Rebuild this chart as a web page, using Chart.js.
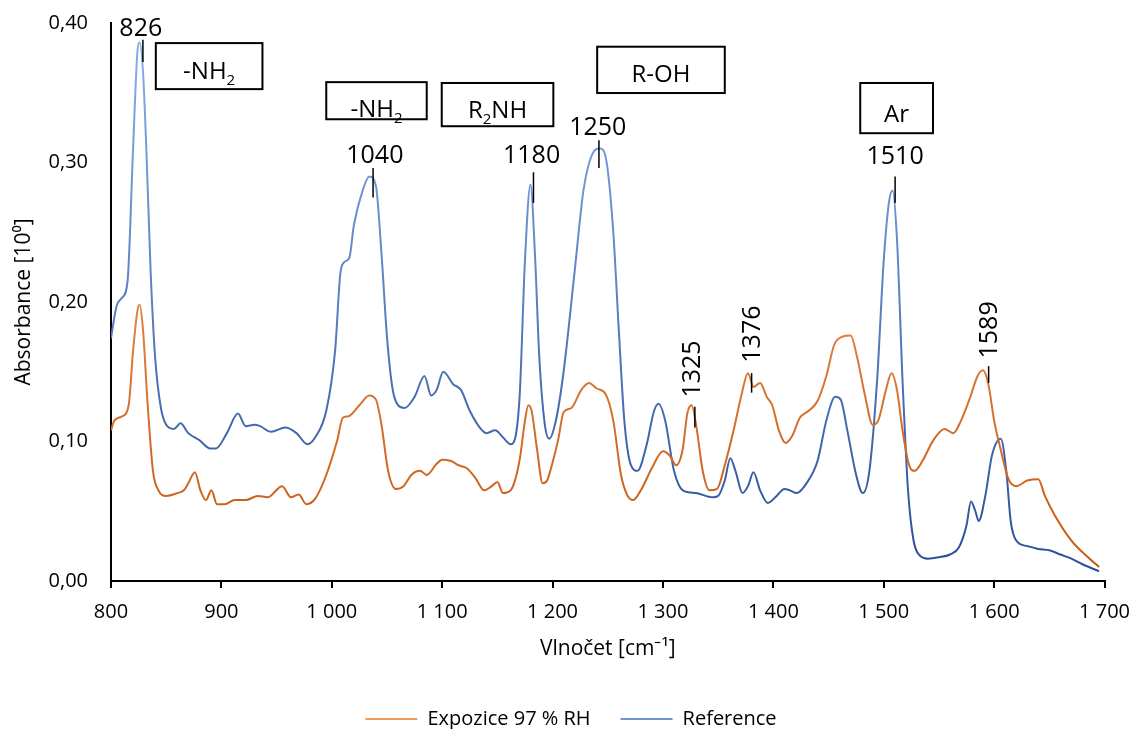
<!DOCTYPE html>
<html>
<head>
<meta charset="utf-8">
<script src="https://cdn.jsdelivr.net/npm/chart.js@4.4.0/dist/chart.umd.min.js"></script>
<style>
html, body { margin: 0; padding: 0; background: #fff; }
</style>
</head>
<body>
<canvas id="spectrum" width="1142" height="729"></canvas>
<script>
// wavenumbers [cm-1] and absorbance
const seriesNames = ["Expozice 97 % RH", "Reference"];

const expWave = [
    800, 803, 810, 816, 820, 824, 826, 829, 833, 838,
    843, 850, 860, 866, 870, 876, 881, 886, 891, 896,
    903, 912, 922, 933, 942, 955, 963, 970, 977, 985,
    995, 1005, 1010, 1015, 1025, 1034, 1040, 1045, 1051, 1058,
    1065, 1072, 1080, 1086, 1095, 1100, 1108, 1115, 1122, 1130,
    1138, 1145, 1150, 1155, 1162, 1170, 1175, 1178, 1181, 1186,
    1191, 1195, 1200, 1205, 1210, 1217, 1226, 1233, 1240, 1248,
    1255, 1262, 1268, 1273, 1280, 1290, 1300, 1306, 1312, 1318,
    1322, 1326, 1330, 1336, 1342, 1349, 1356, 1364, 1371, 1377,
    1382, 1388, 1394, 1399, 1405, 1411, 1417, 1424, 1432, 1440,
    1448, 1455, 1462, 1470, 1476, 1483, 1490, 1495, 1502, 1507,
    1512, 1517, 1523, 1528, 1535, 1545, 1555, 1563, 1570, 1578,
    1585, 1590, 1595, 1600, 1606, 1613, 1620, 1630, 1640, 1646,
    1655, 1670, 1685, 1695
];
const expAbs = [
    .108, .115, .118, .126, .165, .194, .198, .180, .129, .079,
    .065, .061, .063, .065, .070, .078, .065, .058, .065, .055,
    .055, .058, .058, .061, .060, .068, .060, .062, .055, .059,
    .076, .101, .117, .118, .126, .133, .130, .112, .079, .066,
    .068, .076, .079, .076, .084, .087, .086, .083, .081, .074,
    .065, .068, .071, .063, .065, .086, .115, .126, .122, .094,
    .070, .072, .085, .101, .121, .124, .137, .142, .138, .134,
    .115, .076, .061, .058, .065, .081, .093, .090, .083, .095,
    .120, .126, .112, .079, .065, .066, .083, .108, .133, .149,
    .139, .142, .132, .126, .108, .099, .104, .117, .122, .129,
    .147, .169, .175, .176, .160, .133, .112, .115, .137, .149,
    .137, .108, .083, .079, .086, .101, .109, .106, .115, .131,
    .147, .151, .140, .115, .094, .073, .068, .072, .073, .061,
    .047, .029, .017, .010
];

const refWave = [
    800, 805, 810, 815, 820, 824, 826, 829, 832, 836,
    840, 845, 850, 857, 863, 870, 880, 890, 895, 905,
    915, 922, 930, 935, 945, 958, 968, 978, 985, 995,
    1003, 1008, 1012, 1016, 1020, 1028, 1034, 1040, 1045, 1050,
    1055, 1060, 1066, 1075, 1084, 1090, 1095, 1101, 1110, 1117,
    1125, 1135, 1140, 1148, 1155, 1162, 1170, 1175, 1180, 1184,
    1188, 1193, 1197, 1203, 1210, 1220, 1228, 1236, 1243, 1249,
    1255, 1260, 1265, 1271, 1277, 1285, 1292, 1296, 1302, 1310,
    1318, 1330, 1345, 1350, 1356, 1361, 1366, 1372, 1377, 1382,
    1388, 1395, 1403, 1410, 1415, 1421, 1430, 1440, 1448, 1456,
    1461, 1467, 1475, 1481, 1487, 1494, 1500, 1505, 1508, 1512,
    1517, 1522, 1527, 1533, 1540, 1550, 1560, 1568, 1575, 1579,
    1583, 1586, 1592, 1598, 1606, 1611, 1615, 1620, 1630, 1640,
    1650, 1660, 1670, 1680, 1695
];
const refAbs = [
    .174, .197, .203, .215, .310, .380, .386, .365, .310, .220,
    .160, .125, .112, .109, .113, .106, .101, .095, .095, .106,
    .120, .111, .112, .111, .107, .110, .106, .098, .103, .122,
    .165, .222, .229, .232, .255, .280, .290, .283, .235, .175,
    .138, .126, .124, .132, .147, .133, .137, .150, .141, .137,
    .122, .109, .106, .108, .103, .098, .130, .230, .284, .235,
    .160, .112, .102, .115, .150, .222, .280, .306, .310, .300,
    .250, .180, .115, .083, .079, .097, .122, .127, .115, .079,
    .065, .063, .060, .061, .072, .088, .078, .063, .068, .078,
    .065, .056, .061, .066, .065, .063, .070, .086, .115, .132,
    .130, .108, .076, .063, .079, .144, .230, .273, .280, .245,
    .144, .065, .029, .018, .016, .017, .019, .024, .040, .057,
    .050, .043, .061, .090, .102, .079, .043, .029, .025, .023,
    .022, .019, .016, .012, .007
];

const xTicks = [800, 900, 1000, 1100, 1200, 1300, 1400, 1500, 1600, 1700];
const yTicks = [0, 0.1, 0.2, 0.3, 0.4];

// peak numbers: text, label anchor (x, y) and the small marker line (mx, from y1 to y2)
const peakNotes = [
    { text: "826",  x: 827,  y: 0.396, rot: false, mx: 828.9, y1: 0.388, y2: 0.372 },
    { text: "1040", x: 1039, y: 0.305, rot: false, mx: 1037.4, y1: 0.296, y2: 0.275 },
    { text: "1180", x: 1181, y: 0.305, rot: false, mx: 1182.7, y1: 0.293, y2: 0.271 },
    { text: "1250", x: 1241, y: 0.325, rot: false, mx: 1242, y1: 0.316, y2: 0.296 },
    { text: "1325", x: 1327, y: 0.152, rot: true, mx: 1328.9, y1: 0.125, y2: 0.110 },
    { text: "1376", x: 1381.7, y: 0.177, rot: true, mx: 1380.3, y1: 0.149, y2: 0.135 },
    { text: "1510", x: 1510.3, y: 0.304, rot: false, mx: 1510.3, y1: 0.290, y2: 0.271 },
    { text: "1589", x: 1596, y: 0.180, rot: true, mx: 1595, y1: 0.154, y2: 0.142 }
];

// boxed group names, parts flagged 1 are subscripts
const groupBoxes = [
    { parts: [["-NH", 0], ["2", 1]], x1: 840.6, x2: 937.2, y1: 0.3856, y2: 0.3526, base: 0.3598 },
    { parts: [["-NH", 0], ["2", 1]], x1: 995, x2: 1086, y1: 0.3576, y2: 0.3310, base: 0.3325 },
    { parts: [["R", 0], ["2", 1], ["NH", 0]], x1: 1099.6, x2: 1200.7, y1: 0.3570, y2: 0.3260, base: 0.3318 },
    { parts: [["R-OH", 0]], x1: 1240.4, x2: 1356, y1: 0.3830, y2: 0.3498, base: 0.3576 },
    { parts: [["Ar", 0]], x1: 1478.7, x2: 1544.6, y1: 0.3570, y2: 0.3210, base: 0.3289 }
];

const FONT = "'Open Sans', sans-serif";
const legendColors = ['#f29a5c', '#6f95d6'];

function lineGradient(top, bottom) {
    return (c) => {
        const area = c.chart.chartArea;
        if (!area) return bottom;
        const g = c.chart.ctx.createLinearGradient(0, area.top, 0, area.bottom);
        g.addColorStop(0, top);
        g.addColorStop(1, bottom);
        return g;
    };
}

function toPoints(xs, ys) {
    return xs.map((x, i) => ({ x: x, y: ys[i] }));
}

const notesPlugin = {
    id: 'peakNotes',
    afterDatasetsDraw(chart) {
        const ctx = chart.ctx;
        const sx = chart.scales.x, sy = chart.scales.y;
        ctx.save();
        ctx.fillStyle = '#000';
        ctx.strokeStyle = '#000';

        peakNotes.forEach(n => {
            const mx = sx.getPixelForValue(n.mx);
            ctx.lineWidth = 1.5;
            ctx.beginPath();
            ctx.moveTo(mx, sy.getPixelForValue(n.y1));
            ctx.lineTo(mx, sy.getPixelForValue(n.y2));
            ctx.stroke();

            ctx.save();
            ctx.translate(sx.getPixelForValue(n.x), sy.getPixelForValue(n.y));
            if (n.rot) ctx.rotate(-Math.PI / 2);
            ctx.font = '25px ' + FONT;
            ctx.textAlign = 'center';
            ctx.textBaseline = 'middle';
            ctx.fillText(n.text, 0, 0);
            ctx.restore();
        });

        groupBoxes.forEach(b => {
            const left = sx.getPixelForValue(b.x1), right = sx.getPixelForValue(b.x2);
            const top = sy.getPixelForValue(b.y1), bottom = sy.getPixelForValue(b.y2);
            ctx.lineWidth = 2;
            ctx.strokeRect(left, top, right - left, bottom - top);

            let total = 0;
            b.parts.forEach(p => {
                ctx.font = (p[1] ? '15px ' : '24px ') + FONT;
                total += ctx.measureText(p[0]).width;
            });
            let x = (left + right) / 2 - total / 2;
            const base = sy.getPixelForValue(b.base);
            ctx.textAlign = 'left';
            ctx.textBaseline = 'alphabetic';
            b.parts.forEach(p => {
                ctx.font = (p[1] ? '15px ' : '24px ') + FONT;
                ctx.fillText(p[0], x, base + (p[1] ? 6 : 0));
                x += ctx.measureText(p[0]).width;
            });
        });
        ctx.restore();
    }
};

new Chart(document.getElementById('spectrum'), {
    type: 'line',
    data: {
        datasets: [{
            label: seriesNames[0],
            data: toPoints(expWave, expAbs),
            borderColor: lineGradient('#ffb07a', '#c4540c'),
            borderWidth: 2,
            pointRadius: 0,
            cubicInterpolationMode: 'monotone',
            fill: false
        }, {
            label: seriesNames[1],
            data: toPoints(refWave, refAbs),
            borderColor: lineGradient('#8db2ea', '#284c95'),
            borderWidth: 2,
            pointRadius: 0,
            cubicInterpolationMode: 'monotone',
            fill: false
        }]
    },
    options: {
        responsive: false,
        animation: false,
        devicePixelRatio: 1,
        layout: { padding: { top: 23, right: 0, bottom: 0, left: 0 } },
        plugins: {
            tooltip: { enabled: false },
            legend: {
                position: 'bottom',
                maxHeight: 50,
                labels: {
                    usePointStyle: true,
                    pointStyle: 'line',
                    pointStyleWidth: 52,
                    padding: 30,
                    color: '#000',
                    font: { family: FONT, size: 20 },
                    generateLabels: (chart) => {
                        const items = Chart.defaults.plugins.legend.labels.generateLabels(chart);
                        items.forEach((it, i) => {
                            it.strokeStyle = legendColors[i];
                            it.fillStyle = legendColors[i];
                            it.lineWidth = 2;
                            it.pointStyle = 'line';
                        });
                        return items;
                    }
                }
            }
        },
        scales: {
            x: {
                type: 'linear',
                min: xTicks[0],
                max: xTicks[xTicks.length - 1],
                afterBuildTicks: (s) => { s.ticks = xTicks.map(v => ({ value: v })); },
                afterFit: (s) => { s.height = 98; },
                ticks: {
                    color: '#000',
                    padding: 12,
                    maxRotation: 0,
                    font: { family: FONT, size: 20 },
                    callback: (v) => String(v).replace(/\B(?=(\d{3})+(?!\d))/g, ' ')
                },
                grid: { display: true, drawOnChartArea: false, drawTicks: true, tickLength: 7, color: '#000', lineWidth: 2 },
                border: { display: true, color: '#000', width: 2 },
                title: {
                    display: true,
                    text: 'Vlnočet [cm⁻¹]',
                    color: '#000',
                    font: { family: FONT, size: 21 },
                    padding: { top: 0, bottom: 17 }
                }
            },
            y: {
                min: yTicks[0],
                max: yTicks[yTicks.length - 1],
                afterBuildTicks: (s) => { s.ticks = yTicks.map(v => ({ value: v })); },
                afterFit: (s) => { s.width = 111; s.paddingTop = 0; s.paddingBottom = 0; },
                ticks: {
                    color: '#000',
                    padding: 23,
                    font: { family: FONT, size: 20 },
                    callback: (v) => v.toFixed(2).replace('.', ',')
                },
                grid: { display: false, drawTicks: false },
                border: { display: true, color: '#000', width: 2 },
                title: {
                    display: true,
                    text: 'Absorbance [10⁰]',
                    color: '#000',
                    font: { family: FONT, size: 21 },
                    padding: { top: 11, bottom: 0 }
                }
            },
            spacer: {
                type: 'linear',
                position: 'right',
                display: true,
                afterFit: (s) => { s.width = 35; s.paddingTop = 0; s.paddingBottom = 0; },
                ticks: { display: false },
                grid: { display: false, drawTicks: false },
                border: { display: false }
            }
        }
    },
    plugins: [notesPlugin]
});
</script>
</body>
</html>
